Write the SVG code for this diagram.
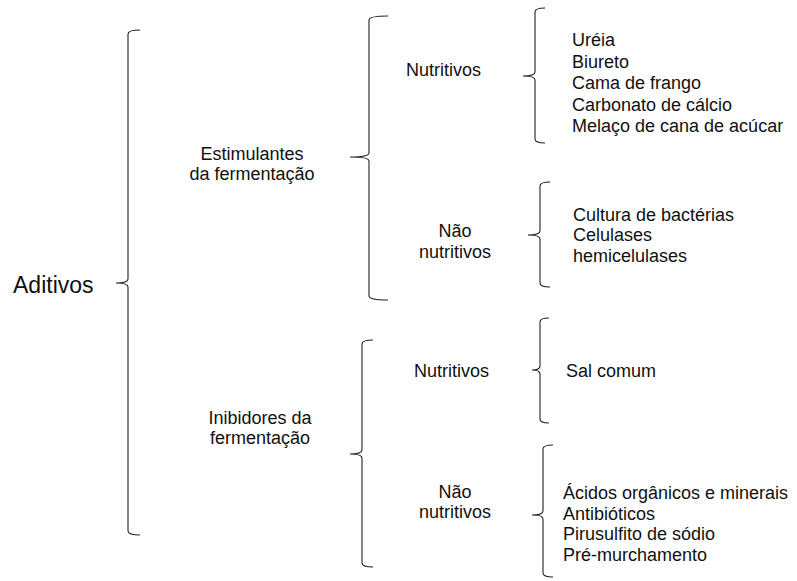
<svg xmlns="http://www.w3.org/2000/svg" width="797" height="581" viewBox="0 0 797 581">
<style>
text{font-family:"Liberation Sans",Arial,sans-serif;font-size:18px;fill:#111}
.c{text-anchor:middle}
.b{fill:none;stroke:#222;stroke-width:1.1}
</style>
<rect width="797" height="581" fill="#fff"/>
<g id="connectors">
<path class="b" d="M140,30 Q128,30 128,34 L128,279 Q128,283 116,283 Q128,283 128,287 L128,531 Q128,535 140,535"/>
<path class="b" d="M388,16 Q369,16 369,20 L369,153 Q369,157 350,157 Q369,157 369,161 L369,296 Q369,300 388,300"/>
<path class="b" d="M373,340 Q362,340 362,344 L362,450 Q362,454 350,454 Q362,454 362,458 L362,563 Q362,567 373,567"/>
<path class="b" d="M545,8 Q535,8 535,12 L535,72 Q535,76 523,76 Q535,76 535,80 L535,139 Q535,143 545,143"/>
<path class="b" d="M550,182 Q540,182 540,186 L540,231 Q540,235 528,235 Q540,235 540,239 L540,283 Q540,287 550,287"/>
<path class="b" d="M549,318 Q540,318 540,322 L540,366 Q540,370 532,370 Q540,370 540,374 L540,419 Q540,423 549,423"/>
<path class="b" d="M553,445 Q543,445 543,449 L543,511 Q543,515 532,515 Q543,515 543,519 L543,573 Q543,577 553,577"/>
</g>
<g id="aditivos"><text x="13" y="293" style="font-size:23px">Aditivos</text></g>
<g id="estimulantes"><text class="c" x="252" y="160">Estimulantes</text><text class="c" x="252" y="180">da fermentação</text></g>
<g id="inibidores"><text class="c" x="260" y="424">Inibidores da</text><text class="c" x="260" y="444">fermentação</text></g>
<g id="est-nutritivos"><text x="406" y="76">Nutritivos</text></g>
<g id="est-nao-nutritivos"><text class="c" x="455" y="237">Não</text><text class="c" x="455" y="258">nutritivos</text></g>
<g id="ini-nutritivos"><text x="414" y="377">Nutritivos</text></g>
<g id="ini-nao-nutritivos"><text class="c" x="455" y="498">Não</text><text class="c" x="455" y="518">nutritivos</text></g>
<g id="list-est-nutritivos">
<text x="572" y="46">Uréia</text>
<text x="572" y="67.5">Biureto</text>
<text x="572" y="89">Cama de frango</text>
<text x="572" y="110.5">Carbonato de cálcio</text>
<text x="572" y="132">Melaço de cana de acúcar</text>
</g>
<g id="list-est-nao-nutritivos">
<text x="573" y="220.5">Cultura de bactérias</text>
<text x="573" y="241">Celulases</text>
<text x="573" y="262">hemicelulases</text>
</g>
<g id="list-ini-nutritivos"><text x="566" y="377">Sal comum</text></g>
<g id="list-ini-nao-nutritivos">
<text x="563" y="499">Ácidos orgânicos e minerais</text>
<text x="563" y="519.5">Antibióticos</text>
<text x="563" y="540">Pirusulfito de sódio</text>
<text x="563" y="560.5">Pré-murchamento</text>
</g>
</svg>
